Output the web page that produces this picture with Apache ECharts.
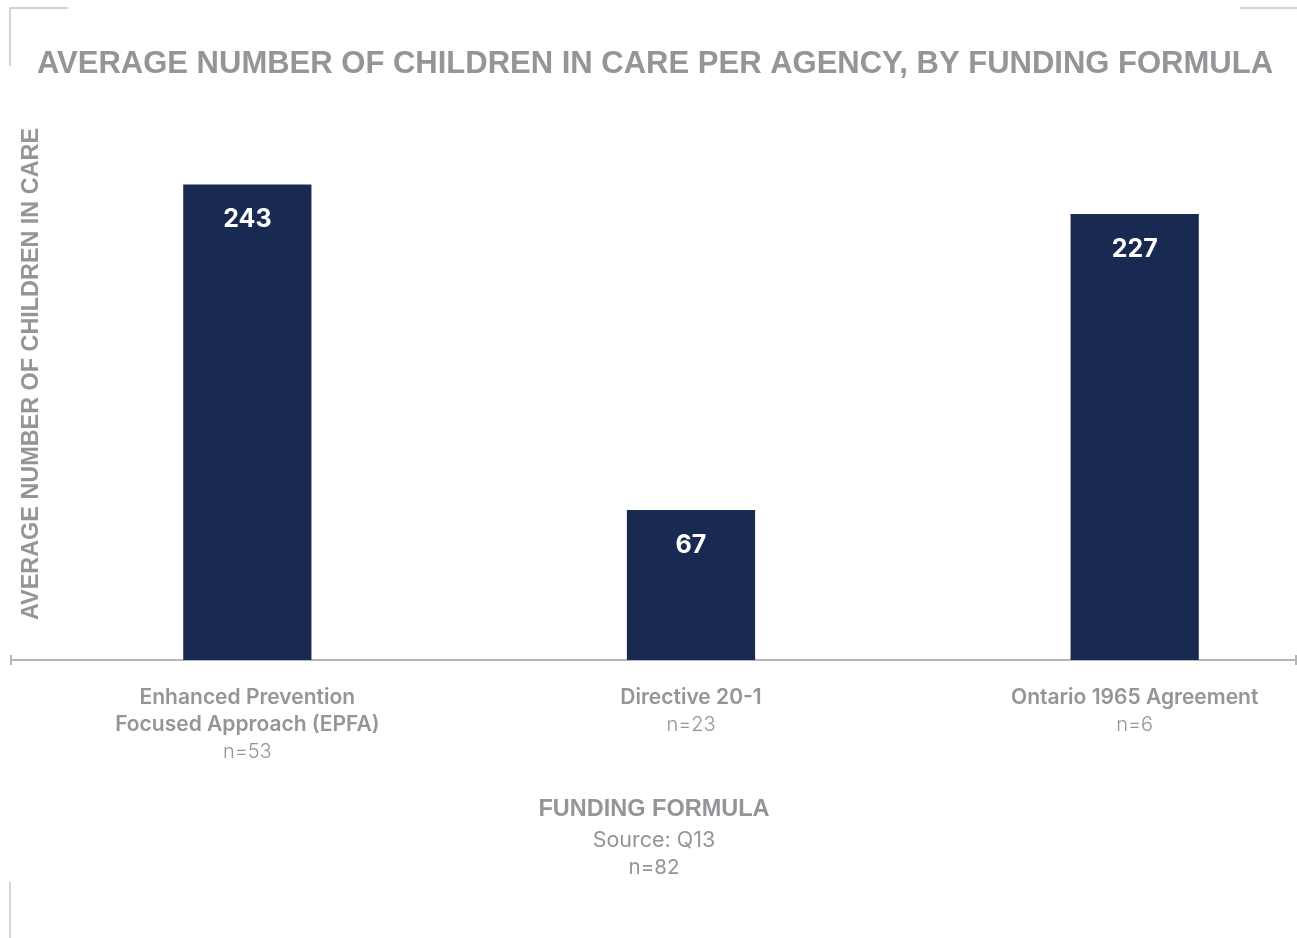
<!DOCTYPE html>
<html>
<head>
<meta charset="utf-8">
<script src="https://cdn.jsdelivr.net/npm/echarts@6/dist/echarts.min.js"></script>
<style>
  html, body { margin: 0; padding: 0; background: #ffffff; }
  #chart { width: 1297px; height: 938px; }
</style>
</head>
<body>
<div id="chart"></div>
<script>
// Average children in care per agency, grouped by funding formula
const categories = [
  ['Enhanced Prevention', 'Focused Approach (EPFA)'],
  ['Directive 20-1'],
  ['Ontario 1965 Agreement']
];
const sampleSizes = [53, 23, 6];
const averages = [243, 67, 227];

const titleText = 'AVERAGE NUMBER OF CHILDREN IN CARE PER AGENCY, BY FUNDING FORMULA';
const yAxisTitle = 'AVERAGE NUMBER OF CHILDREN IN CARE';
const xAxisTitle = 'FUNDING FORMULA';
const footnotes = ['Source: Q13', 'n=82'];

const yMin = -14;
const yMax = 260;

const GRAY = '#939598';
const NAVY = '#182a52';
const RULE = '#b5b5b5';

const chart = echarts.init(document.getElementById('chart'), null, { renderer: 'canvas' });

const labelFont = 'Inter, "Open Sans", "Liberation Sans", sans-serif';
const headFont = '"Liberation Sans", Arial, sans-serif';

chart.setOption({
  backgroundColor: '#ffffff',
  animation: false,
  grid: {
    left: 25.5, top: 153, width: 1331, bottom: 278,
    containLabel: false, outerBoundsMode: 'none'
  },
  xAxis: {
    type: 'category',
    data: categories.map((c, i) => i),
    axisLine: { show: false },
    axisTick: { show: false },
    splitLine: { show: false },
    axisLabel: {
      interval: 0,
      margin: 24,
      formatter: (v, i) => {
        const lines = categories[i].map(t => '{b|' + t + '}');
        lines.push('{n|n=' + sampleSizes[i] + '}');
        return lines.join('\n');
      },
      rich: {
        b: { fontFamily: labelFont, fontWeight: 600, fontSize: 21, color: GRAY, lineHeight: 27, align: 'center' },
        n: { fontFamily: labelFont, fontWeight: 300, fontSize: 20, color: GRAY, lineHeight: 27, align: 'center' }
      }
    }
  },
  yAxis: {
    type: 'value',
    min: yMin,
    max: yMax,
    show: false,
    splitLine: { show: false }
  },
  series: [{
    type: 'custom',
    data: averages.map((v, i) => [i, v]),
    encode: { x: 0, y: 1 },
    renderItem: (params, api) => {
      const idx = api.value(0);
      const val = api.value(1);
      const top = api.coord([idx, val]);
      const base = api.coord([idx, yMin]);
      const w = api.size([1, 0])[0] * 0.289;
      return {
        type: 'group',
        children: [
          {
            type: 'rect',
            shape: { x: top[0] - w / 2, y: top[1], width: w, height: base[1] - top[1] },
            style: { fill: NAVY }
          },
          {
            type: 'text',
            style: {
              x: top[0], y: top[1] + 35,
              text: String(val),
              fill: '#ffffff',
              font: '700 25px ' + labelFont,
              textAlign: 'center',
              textVerticalAlign: 'middle'
            }
          }
        ]
      };
    }
  }],
  graphic: [
    // corner brackets
    { type: 'polyline', shape: { points: [[10, 66], [10, 8], [68, 8]] }, style: { stroke: '#c4c4c4', lineWidth: 1.5, fill: null } },
    { type: 'line', shape: { x1: 1240, y1: 8, x2: 1297, y2: 8 }, style: { stroke: '#c4c4c4', lineWidth: 1.5 } },
    { type: 'line', shape: { x1: 10, y1: 882, x2: 10, y2: 938 }, style: { stroke: '#c4c4c4', lineWidth: 1.5 } },
    // baseline with end ticks
    { type: 'line', shape: { x1: 11, y1: 660, x2: 1296, y2: 660 }, style: { stroke: RULE, lineWidth: 2 } },
    { type: 'line', shape: { x1: 11, y1: 655, x2: 11, y2: 665 }, style: { stroke: RULE, lineWidth: 2 } },
    { type: 'line', shape: { x1: 1296, y1: 655, x2: 1296, y2: 665 }, style: { stroke: RULE, lineWidth: 2 } },
    // title
    {
      type: 'text', left: 37, top: 49,
      style: { text: titleText, fill: GRAY, font: 'bold 31px ' + headFont }
    },
    // vertical axis title
    {
      type: 'text', x: 32, y: 374, rotation: Math.PI / 2,
      style: { text: yAxisTitle, fill: GRAY, font: 'bold 23.4px ' + headFont, textAlign: 'center', textVerticalAlign: 'middle' }
    },
    // horizontal axis title and notes
    {
      type: 'text', x: 654, y: 810,
      style: { text: xAxisTitle, fill: GRAY, font: 'bold 23.5px ' + headFont, textAlign: 'center', textVerticalAlign: 'middle' }
    },
    {
      type: 'text', x: 654, y: 841,
      style: { text: footnotes[0], fill: GRAY, font: '21.5px ' + labelFont, textAlign: 'center', textVerticalAlign: 'middle' }
    },
    {
      type: 'text', x: 654, y: 868,
      style: { text: footnotes[1], fill: GRAY, font: '20.5px ' + labelFont, textAlign: 'center', textVerticalAlign: 'middle' }
    }
  ]
});
</script>
</body>
</html>
